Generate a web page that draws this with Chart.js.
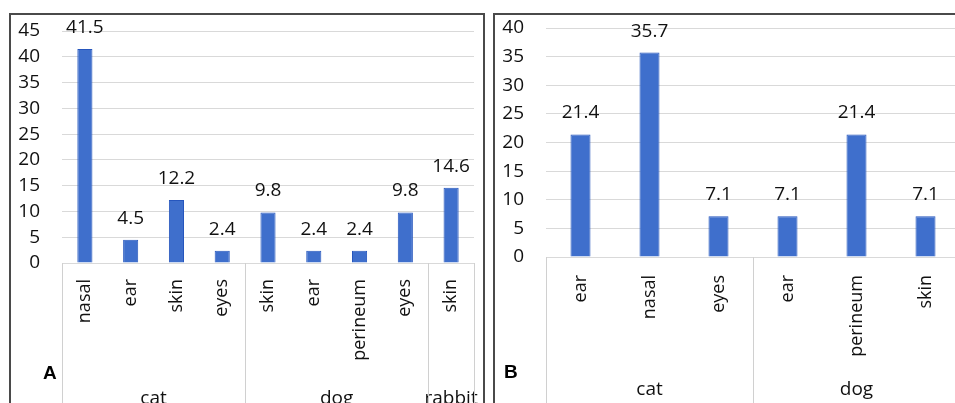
<!DOCTYPE html>
<html>
<head>
<meta charset="utf-8">
<script src="https://cdn.jsdelivr.net/npm/chart.js@4.4.0/dist/chart.umd.min.js"></script>
<style>
  html, body { margin: 0; padding: 0; background: #fff; overflow: hidden; }
  body { width: 955px; height: 403px; position: relative; }
  .frame { position: absolute; box-sizing: border-box; border: 2px solid #4a4a4a; border-bottom: none; }
  #frameA { left: 9px; top: 13px; width: 476px; height: 400px; }
  #frameB { left: 493px; top: 13px; width: 480px; height: 400px; border-right: none; }
  canvas { position: absolute; }
  #chartA { left: 11px; top: 15px; }
  #chartB { left: 495px; top: 15px; }
  .letter { position: absolute; font: bold 19px "Liberation Sans", Arial, sans-serif; color: #000; }
</style>
</head>
<body>
<div class="frame" id="frameA"></div>
<div class="frame" id="frameB"></div>
<canvas id="chartA" width="471" height="388"></canvas>
<canvas id="chartB" width="470" height="388"></canvas>
<div class="letter" style="left:43px; top:362px;">A</div>
<div class="letter" style="left:504px; top:361px;">B</div>
<script>
// panel A
const labelsA = ['nasal', 'ear', 'skin', 'eyes', 'skin', 'ear', 'perineum', 'eyes', 'skin'];
const valuesA = [41.5, 4.5, 12.2, 2.4, 9.8, 2.4, 2.4, 9.8, 14.6];
const groupNamesA = ['cat', 'dog', 'rabbit'];
const groupSizesA = [4, 4, 1];
const yMaxA = 45;

// panel B
const labelsB = ['ear', 'nasal', 'eyes', 'ear', 'perineum', 'skin'];
const valuesB = [21.4, 35.7, 7.1, 7.1, 21.4, 7.1];
const groupNamesB = ['cat', 'dog'];
const groupSizesB = [3, 3];
const yMaxB = 40;

const FONT = '"Open Sans", "Noto Sans", sans-serif';
const TEXT = '#111';

// value labels over the bars
const valueLabels = {
    id: 'valueLabels',
    afterDatasetsDraw(chart) {
        const ctx = chart.ctx;
        const meta = chart.getDatasetMeta(0);
        ctx.save();
        ctx.font = `19px ${FONT}`;
        ctx.fillStyle = TEXT;
        ctx.textAlign = 'center';
        ctx.textBaseline = 'alphabetic';
        meta.data.forEach((bar, i) => {
            const v = chart.data.datasets[0].data[i];
            ctx.fillText(v.toFixed(1), bar.x, bar.y - 16);
        });
        ctx.restore();
    }
};

// second level of the category axis: separators + group names
const groupAxis = {
    id: 'groupAxis',
    afterDraw(chart, args, opts) {
        const ctx = chart.ctx;
        const x = chart.scales.x;
        const n = chart.data.labels.length;
        const half = (x.right - x.left) / n / 2;
        const top = chart.chartArea.bottom;
        ctx.save();
        ctx.strokeStyle = '#d0d0d0';
        ctx.lineWidth = 1;
        ctx.font = `19px ${FONT}`;
        ctx.fillStyle = TEXT;
        ctx.textAlign = 'center';
        let start = 0;
        const edges = [x.left];
        opts.sizes.forEach((size, g) => {
            const end = start + size - 1;
            const left = x.getPixelForValue(start) - half;
            const right = x.getPixelForValue(end) + half;
            edges.push(right);
            ctx.fillText(opts.names[g], (left + right) / 2, opts.labelY);
            start += size;
        });
        edges.forEach(e => {
            const px = Math.round(e) + 0.5;
            ctx.beginPath();
            ctx.moveTo(px, top);
            ctx.lineTo(px, chart.height);
            ctx.stroke();
        });
        ctx.restore();
    }
};

function createChart(id, labels, values, yMax, names, sizes, pad, xAxisHeight, labelY, barPct, tickPad) {
    const ctx = document.getElementById(id).getContext('2d');
    return new Chart(ctx, {
        type: 'bar',
        data: {
            labels: labels,
            datasets: [{
                data: values,
                backgroundColor: '#3f6fcc',
                borderColor: '#2656bd',
                borderWidth: 1,
                categoryPercentage: 1,
                barPercentage: barPct,
            }],
        },
        options: {
            responsive: false,
            animation: false,
            devicePixelRatio: 1,
            layout: { padding: pad },
            plugins: {
                legend: { display: false },
                tooltip: { enabled: false },
                groupAxis: { names: names, sizes: sizes, labelY: labelY },
            },
            scales: {
                x: {
                    grid: { display: false },
                    border: { display: false },
                    ticks: {
                        autoSkip: false,
                        minRotation: 90,
                        maxRotation: 90,
                        padding: tickPad,
                        color: TEXT,
                        font: { family: FONT, size: 18 },
                    },
                    afterFit(scale) {
                        scale.height = xAxisHeight;
                        scale.paddingLeft = 0;
                        scale.paddingRight = 0;
                    },
                },
                y: {
                    min: 0,
                    max: yMax,
                    grid: { color: '#d9d9d9', lineWidth: 1, drawTicks: false },
                    border: { display: false },
                    ticks: {
                        stepSize: 5,
                        autoSkip: false,
                        padding: 22,
                        color: TEXT,
                        font: { family: FONT, size: 19 },
                    },
                    afterFit(scale) {
                        scale.width = 51;
                        scale.paddingTop = 0;
                        scale.paddingBottom = 0;
                    },
                },
            },
        },
        plugins: [valueLabels, groupAxis],
    });
}

createChart('chartA', labelsA, valuesA, yMaxA, groupNamesA, groupSizesA,
    { top: 16, right: 8, left: 0, bottom: 0 }, 140, 389, 0.33, 8);
createChart('chartB', labelsB, valuesB, yMaxB, groupNamesB, groupSizesB,
    { top: 13, right: 5, left: 0, bottom: 0 }, 146, 380, 0.29, 10);
</script>
</body>
</html>
